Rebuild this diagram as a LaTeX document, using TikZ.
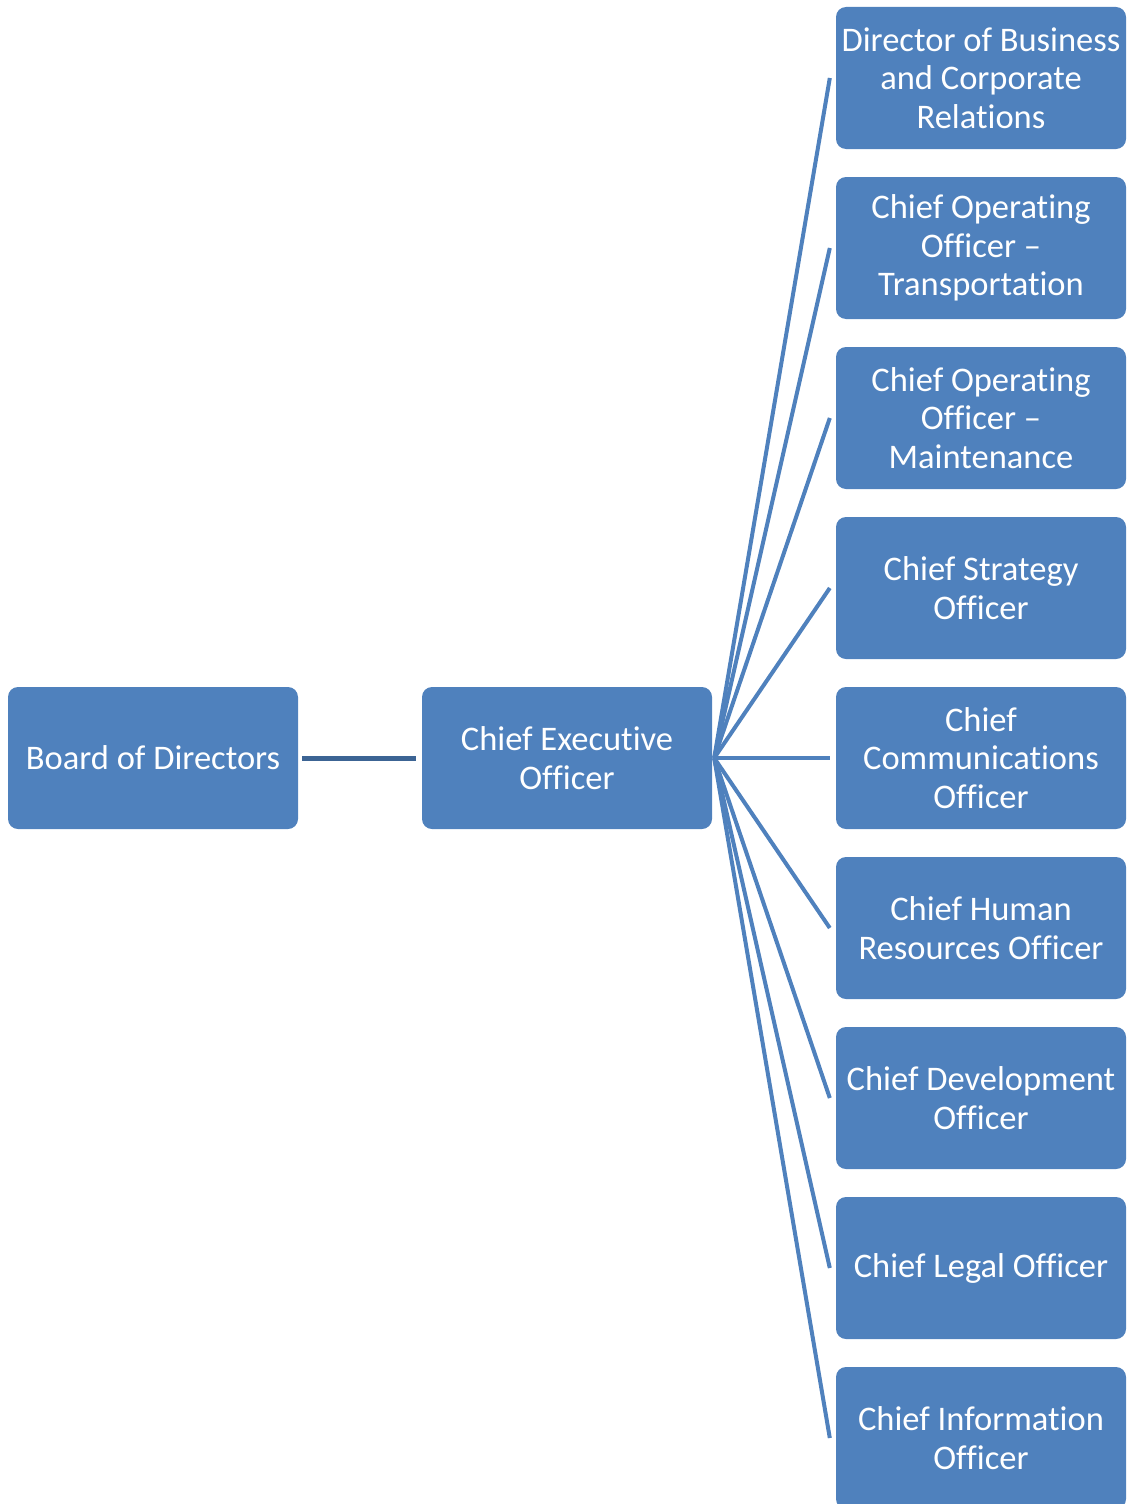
\documentclass[tikz,border=0pt]{standalone}
\usepackage{fontspec}
\setmainfont{Carlito}[Ligatures=NoCommon]
\definecolor{boxblue}{HTML}{4F81BD}
\definecolor{linkdark}{HTML}{3C6494}
\begin{document}
\begin{tikzpicture}[x=1pt,y=1pt,
  orgbox/.style={rectangle, rounded corners=10pt, fill=boxblue, draw=none,
    minimum width=290pt, minimum height=142pt, inner sep=0pt, align=center,
    text=white, font=\fontsize{34.5}{38.5}\selectfont},
  fanline/.style={draw=boxblue, line width=4pt},
  boardline/.style={draw=linkdark, line width=5pt}]
\useasboundingbox (0,0) rectangle (1130,-1504);
\clip (0,0) rectangle (1130,-1504);
\node[orgbox] (board) at (153,-758) {Board of Directors};
\node[orgbox] (ceo) at (567,-758) {Chief Executive\\Officer};
\node[orgbox] (r1) at (981,-78) {Director of Business\\and Corporate\\Relations};
\node[orgbox] (r2) at (981,-248) {Chief Operating\\Officer --\\Transportation};
\node[orgbox] (r3) at (981,-418) {Chief Operating\\Officer --\\Maintenance};
\node[orgbox] (r4) at (981,-588) {Chief Strategy\\Officer};
\node[orgbox] (r5) at (981,-758) {Chief\\Communications\\Officer};
\node[orgbox] (r6) at (981,-928) {Chief Human\\Resources Officer};
\node[orgbox] (r7) at (981,-1098) {Chief Development\\Officer};
\node[orgbox] (r8) at (981,-1268) {Chief Legal Officer};
\node[orgbox] (r9) at (981,-1438) {Chief Information\\Officer};
\draw[boardline] ([xshift=4pt]board.east) -- ([xshift=-6pt]ceo.west);
\coordinate (hub) at ([xshift=2pt]ceo.east);
\foreach \i in {1,...,9}{
  \draw[fanline] (hub) -- ([xshift=-6pt]r\i.west);
}
\end{tikzpicture}
\end{document}
